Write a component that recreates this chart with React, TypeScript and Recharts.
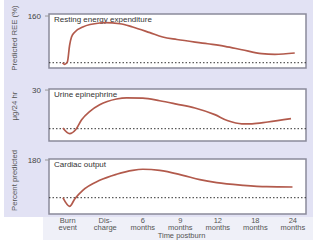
import {
  LineChart,
  Line,
  XAxis,
  YAxis,
  CartesianGrid,
  ReferenceLine,
  ReferenceArea
} from "recharts";

// x positions: 0 = burn event, 1 = discharge, 2..6 = months postburn
const timeTicks = [0, 1, 2, 3, 4, 5, 6];
const timeLabels = [
  ["Burn", "event"],
  ["Dis-", "charge"],
  ["6", "months"],
  ["9", "months"],
  ["12", "months"],
  ["18", "months"],
  ["24", "months"]
];

// resting energy expenditure, % predicted
const reeTime = [-0.14, -0.08, -0.01, 0.05, 0.1, 0.19, 0.4, 0.85, 0.99, 1.39, 1.73, 2.19, 2.53, 2.91, 3.73, 4.19, 4.64, 5.17, 5.52, 6.05];
const reeValues = [100, 97.9, 101, 122.7, 133, 139.5, 145.9, 151, 151.4, 150.1, 145.9, 138.6, 133, 129.8, 124.4, 121.1, 116.7, 111.6, 110.8, 112.5];

// urine epinephrine, ug/24 hr
const epiTime = [-0.13, 0.05, 0.21, 0.37, 0.59, 0.85, 1.3, 1.57, 2, 2.45, 2.9, 3.39, 3.92, 4.27, 4.64, 4.91, 5.33, 5.95];
const epiValues = [8.4, 5.2, 7.4, 13.1, 17.9, 21.6, 24.9, 25.6, 25.4, 23.9, 22, 19.8, 16, 12.5, 10.8, 10.8, 11.8, 13.7];

// cardiac output, % predicted
const coTime = [-0.13, 0.05, 0.19, 0.4, 0.85, 1.3, 1.73, 2.0, 2.45, 3.07, 3.52, 3.97, 4.67, 5.3, 5.99];
const coValues = [100, 81.7, 97.9, 115.7, 136.9, 149.7, 158.1, 160.3, 158.1, 147.5, 138.2, 131.8, 126.3, 123.3, 122.7];

const X_DOMAIN = [-0.5, 6.35];
const FONT = "'Liberation Sans', Arial, sans-serif";
const LINE_COLOR = "#b25a4c";

const zip = (t: number[], v: number[]) => t.map((x, i) => ({ t: x, v: v[i] }));

const TimeTick = ({ x, y, payload }: any) => {
  const lines = timeLabels[payload.value] || [];
  return (
    <text x={x} y={y} textAnchor="middle" fill="#555" fontSize={7.5} fontFamily={FONT}>
      <tspan x={x} dy={0.5}>{lines[0]}</tspan>
      <tspan x={x} dy={7.5}>{lines[1]}</tspan>
    </text>
  );
};

function Panel({
  top,
  height,
  bottom,
  data,
  domain,
  tick,
  baseline,
  title,
  yLabel,
  labelShift,
  showTime
}: any) {
  const yLabelContent = ({ viewBox }: any) => {
    const cx = 14;
    const cy = viewBox.y + viewBox.height / 2 + labelShift;
    return (
      <text
        x={cx}
        y={cy}
        transform={`rotate(-90 ${cx} ${cy})`}
        textAnchor="middle"
        dominantBaseline="central"
        fill="#555"
        fontSize={7.8}
        fontFamily={FONT}
      >
        {yLabel}
      </text>
    );
  };

  const titleContent = ({ viewBox }: any) => (
    <text x={viewBox.x + 5} y={viewBox.y + 8} fill="#333" fontSize={8} fontFamily={FONT}>
      {title}
    </text>
  );

  const timeTitle = ({ viewBox }: any) => (
    <text
      x={viewBox.x + viewBox.width / 2 + 4}
      y={viewBox.y + viewBox.height - 2}
      textAnchor="middle"
      fill="#555"
      fontSize={7.5}
      fontFamily={FONT}
    >
      Time postburn
    </text>
  );

  return (
    <div style={{ position: "absolute", left: 0, top, width: 320, height }}>
      <LineChart
        width={320}
        height={height}
        data={data}
        margin={{ top: 14, right: 14, left: 0, bottom }}
      >
        <CartesianGrid horizontal={false} vertical={false} fill="#ffffff" fillOpacity={1} />
        <XAxis
          dataKey="t"
          type="number"
          domain={X_DOMAIN}
          allowDataOverflow
          ticks={timeTicks}
          hide={!showTime}
          height={26}
          axisLine={false}
          tickLine={false}
          tick={<TimeTick />}
          interval={0}
          label={{ content: timeTitle }}
        />
        <YAxis
          type="number"
          domain={domain}
          allowDataOverflow
          ticks={[tick]}
          width={49}
          axisLine={false}
          tickSize={4}
          tickMargin={4}
          tickLine={{ stroke: "#999" }}
          tick={{ fill: "#444", fontSize: 8, fontFamily: FONT }}
          label={{ content: yLabelContent }}
        />
        <ReferenceLine y={baseline} stroke="#333" strokeDasharray="1.5 2" strokeWidth={1} />
        <Line
          type="monotone"
          dataKey="v"
          stroke={LINE_COLOR}
          strokeWidth={1.7}
          dot={false}
          isAnimationActive={false}
        />
        <ReferenceArea
          x1={X_DOMAIN[0]}
          x2={X_DOMAIN[1]}
          y1={domain[0]}
          y2={domain[1]}
          fill="none"
          stroke="#8b8b9b"
          strokeWidth={1.5}
          label={{ content: titleContent }}
        />
      </LineChart>
    </div>
  );
}

export default function App() {
  return (
    <div style={{ position: "absolute", left: 0, top: 0, width: 320, height: 240, background: "#fff", overflow: "hidden" }}>
      <div style={{ position: "absolute", left: 4, top: 0, width: 309, height: 217, background: "#e2e2f4" }} />
      <div style={{ position: "absolute", left: 43, top: 217, width: 270, height: 23, background: "#eff0f8" }} />
      <Panel
        top={0}
        height={75}
        bottom={7}
        data={zip(reeTime, reeValues)}
        domain={[93.2, 162.6]}
        tick={160}
        baseline={100}
        title="Resting energy expenditure"
        yLabel="Predicted REE (%)"
        labelShift={-3}
      />
      <Panel
        top={75}
        height={70}
        bottom={4}
        data={zip(epiTime, epiValues)}
        domain={[1, 30.6]}
        tick={30}
        baseline={8}
        title="Urine epinephrine"
        yLabel="μg/24 hr"
        labelShift={-9}
      />
      <Panel
        top={145}
        height={95}
        bottom={0}
        data={zip(coTime, coValues)}
        domain={[65.4, 182.1]}
        tick={180}
        baseline={100}
        title="Cardiac output"
        yLabel="Percent predicted"
        labelShift={-6}
        showTime
      />
    </div>
  );
}
